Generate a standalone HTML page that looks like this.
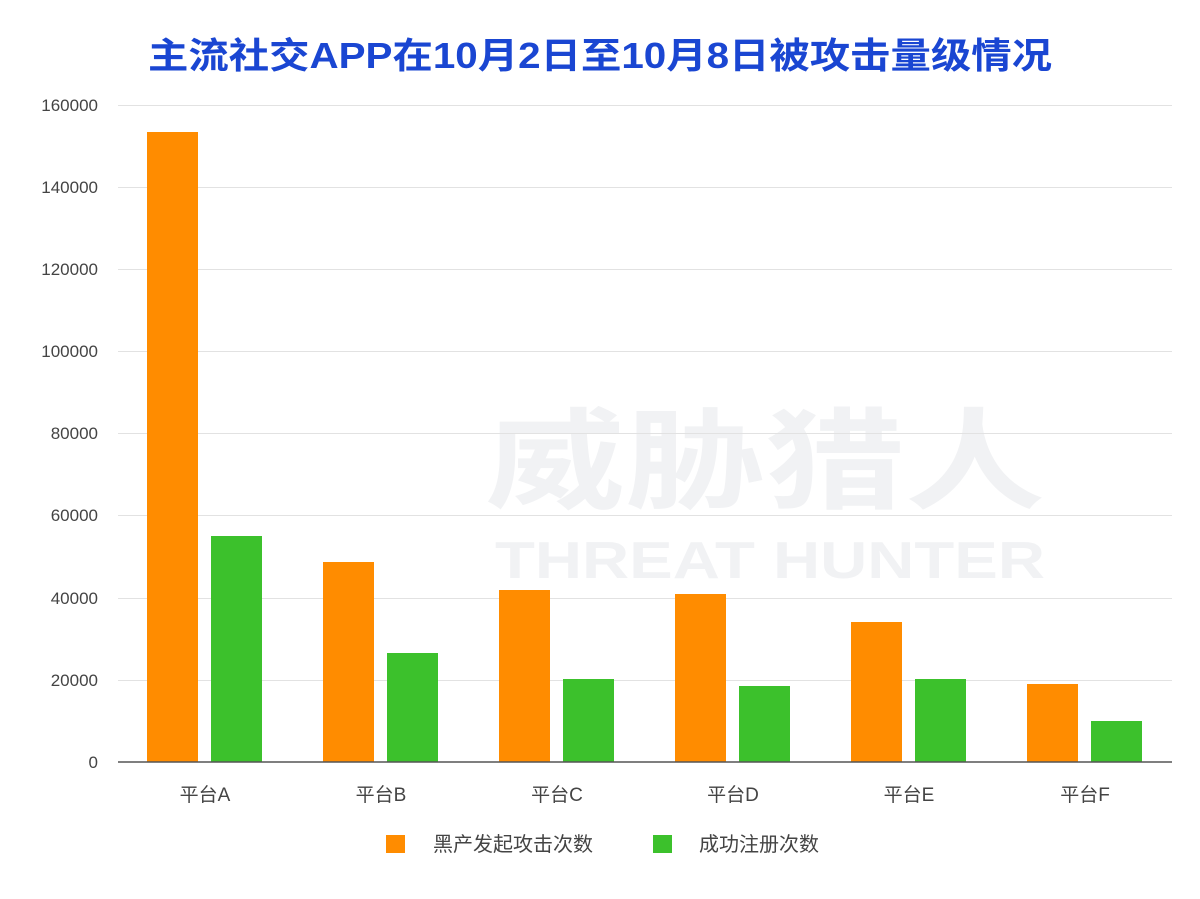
<!DOCTYPE html>
<html><head><meta charset="utf-8"><style>html,body{margin:0;padding:0;background:#fff}svg{display:block}</style></head><body>
<svg width="1200" height="899" xmlns="http://www.w3.org/2000/svg" font-family="Liberation Sans, Noto Sans CJK SC, sans-serif">
<rect width="1200" height="899" fill="#fff"/>
<text x="148" y="68" font-size="36" font-weight="bold" fill="#1a46d2" textLength="904" lengthAdjust="spacingAndGlyphs">主流社交APP在10月2日至10月8日被攻击量级情况</text>
<g fill="#f1f2f4" font-weight="bold">
<text x="485" y="500" font-size="110" textLength="560" lengthAdjust="spacingAndGlyphs">威胁猎人</text>
<text x="495" y="578" font-size="52" textLength="550" lengthAdjust="spacingAndGlyphs">THREAT HUNTER</text>
</g>
<g stroke="#e2e2e2" stroke-width="1">
<line x1="118" x2="1172" y1="105.5" y2="105.5"/><line x1="118" x2="1172" y1="187.5" y2="187.5"/><line x1="118" x2="1172" y1="269.5" y2="269.5"/><line x1="118" x2="1172" y1="351.5" y2="351.5"/><line x1="118" x2="1172" y1="433.5" y2="433.5"/><line x1="118" x2="1172" y1="515.5" y2="515.5"/><line x1="118" x2="1172" y1="598.5" y2="598.5"/><line x1="118" x2="1172" y1="680.5" y2="680.5"/>
</g>
<g font-size="17" fill="#444" text-anchor="end">
<text x="98" y="111">160000</text><text x="98" y="193">140000</text><text x="98" y="275">120000</text><text x="98" y="357">100000</text><text x="98" y="439">80000</text><text x="98" y="521">60000</text><text x="98" y="604">40000</text><text x="98" y="686">20000</text><text x="98" y="768">0</text>
</g>
<g fill="#ff8c00">
<rect x="147" y="132" width="51" height="630"/><rect x="323" y="562" width="51" height="200"/><rect x="499" y="590" width="51" height="172"/><rect x="675" y="594" width="51" height="168"/><rect x="851" y="622" width="51" height="140"/><rect x="1027" y="684" width="51" height="78"/>
</g>
<g fill="#3cc12c">
<rect x="211" y="536" width="51" height="226"/><rect x="387" y="653" width="51" height="109"/><rect x="563" y="679" width="51" height="83"/><rect x="739" y="686" width="51" height="76"/><rect x="915" y="679" width="51" height="83"/><rect x="1091" y="721" width="51" height="41"/>
</g>
<line x1="118" x2="1172" y1="762" y2="762" stroke="#555" stroke-width="1.5"/>
<g font-size="19" fill="#444" text-anchor="middle">
<text x="205" y="801">平台A</text><text x="381" y="801">平台B</text><text x="557" y="801">平台C</text><text x="733" y="801">平台D</text><text x="909" y="801">平台E</text><text x="1085" y="801">平台F</text>
</g>
<rect x="386" y="835" width="19" height="18" fill="#ff8c00"/>
<rect x="653" y="835" width="19" height="18" fill="#3cc12c"/>
<g font-size="20" fill="#444">
<text x="433" y="851">黑产发起攻击次数</text><text x="699" y="851">成功注册次数</text>
</g>
</svg>
</body></html>
